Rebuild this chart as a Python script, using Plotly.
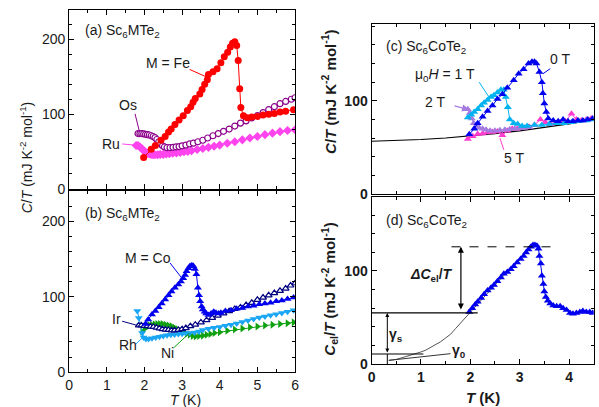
import plotly.graph_objects as go

# ---------------- data ----------------
# panel (a)
T_fe = [1.98, 2.18, 2.29, 2.44, 2.55, 2.64, 2.71, 2.81, 2.92, 3.03, 3.14, 3.23, 3.29, 3.35, 3.47, 3.53, 3.60, 3.67, 3.70, 3.82, 3.93, 4.03, 4.12, 4.21, 4.28, 4.34, 4.40, 4.45, 4.49, 4.53, 4.56, 4.63, 4.73, 4.85, 5.0, 5.15, 5.3, 5.45, 5.6, 5.75, 5.96]
Y_fe = [42, 53, 58, 65, 70, 76, 80, 86, 92, 98, 105, 110, 116, 121, 127, 133, 140, 146, 153, 157, 161, 169, 177, 183, 190, 195, 197, 192, 172, 134, 109, 98, 95, 96, 97, 99, 100, 101, 103, 104, 106]
T_os = [1.83, 1.88, 1.93, 1.98, 2.03, 2.08, 2.13, 2.18, 2.23, 2.28, 2.33, 2.38, 2.43, 2.48, 2.53, 2.6, 2.68, 2.76, 2.84, 2.92, 3.0, 3.1, 3.2, 3.3, 3.42, 3.55, 3.68, 3.82, 3.96, 4.1, 4.25, 4.4, 4.55, 4.7, 4.85, 5.0, 5.15, 5.3, 5.45, 5.6, 5.75, 5.9, 6.0]
Y_os = [74, 74, 74, 73.5, 73, 72.5, 72, 71, 70, 68.5, 66, 63, 60, 57.5, 56, 55, 55, 55.5, 56, 56.5, 57.5, 58.5, 60, 61, 63, 65, 68, 71, 74, 77, 80, 84, 88, 91, 95, 98, 102, 106, 110, 114, 117, 120, 122]
T_ru = [1.78, 1.83, 1.88, 1.93, 1.98, 2.03, 2.08, 2.13, 2.18, 2.23, 2.28, 2.35, 2.42, 2.5, 2.58, 2.66, 2.75, 2.85, 2.95, 3.05, 3.15, 3.25, 3.4, 3.55, 3.7, 3.85, 4.0, 4.2, 4.4, 4.6, 4.8, 5.0, 5.2, 5.4, 5.6, 5.8, 6.0]
Y_ru = [58, 58, 56, 54, 51, 49, 47.5, 46.5, 46, 45.5, 45.5, 45.5, 46, 46, 46.5, 47, 47.5, 48, 48.5, 49.5, 50, 51, 52.5, 54, 55.5, 57, 58.5, 61, 63, 65.5, 68, 70, 72.5, 74.5, 76.5, 78, 79]

# panel (b)
T_co = [2.03, 2.1, 2.2, 2.29, 2.38, 2.46, 2.55, 2.64, 2.72, 2.81, 2.9, 2.97, 3.03, 3.08, 3.12, 3.17, 3.21, 3.26, 3.30, 3.34, 3.38, 3.42, 3.45, 3.48, 3.52, 3.55, 3.6, 3.64, 3.7, 3.77, 3.84, 3.9, 3.97, 4.03, 4.15, 4.3, 4.45, 4.6, 4.75, 4.9, 5.05, 5.2, 5.35, 5.5, 5.65, 5.8, 5.96]
Y_co = [64, 70, 76.5, 81, 86, 91, 96.5, 102, 107, 112, 116.5, 120.5, 124.5, 129, 134, 138, 141, 142, 141, 137, 130, 112, 102, 94, 87, 83, 80, 78, 76, 78, 80, 79, 78, 79, 81, 82, 84, 85, 87, 88, 90, 91, 92, 94, 95, 97, 99]
T_ir = [1.85, 1.92, 2.0, 2.08, 2.16, 2.24, 2.32, 2.4, 2.48, 2.56, 2.64, 2.72, 2.8, 2.9, 3.0, 3.1, 3.22, 3.35, 3.5, 3.65, 3.8, 3.95, 4.1, 4.25, 4.4, 4.55, 4.7, 4.85, 5.0, 5.15, 5.3, 5.45, 5.6, 5.75, 5.88, 6.0]
Y_ir = [62, 62, 61.5, 61, 60.5, 60, 59, 58, 57, 56.5, 56, 55.5, 55.5, 56, 57, 58.5, 61, 63, 66, 69, 72, 75, 78, 81, 84, 86, 89, 92, 96, 99, 102, 105, 108, 111, 115, 118]
T_rh = [1.81, 1.85, 1.89, 1.94, 1.98, 2.04, 2.11, 2.2, 2.3, 2.4, 2.5, 2.6, 2.7, 2.8, 2.9, 3.0, 3.1, 3.2, 3.33, 3.45, 3.55, 3.7, 3.85, 4.0, 4.15, 4.3, 4.45, 4.6, 4.75, 4.9, 5.05, 5.2, 5.35, 5.5, 5.65, 5.8, 5.96]
Y_rh = [81, 72, 63, 52, 46, 44, 44, 45, 46, 47, 48, 49, 49.5, 50, 50.5, 51, 51.5, 52, 52.5, 54, 56, 57.5, 59, 60, 61.5, 63, 64.5, 66.5, 68.5, 70.5, 72.5, 74, 75.5, 77, 78.5, 80, 82]
T_ni = [1.94, 2.0, 2.07, 2.14, 2.2, 2.27, 2.34, 2.41, 2.48, 2.56, 2.64, 2.72, 2.8, 2.88, 2.96, 3.04, 3.12, 3.2, 3.28, 3.36, 3.45, 3.55, 3.65, 3.75, 3.86, 4.0, 4.2, 4.4, 4.6, 4.8, 5.0, 5.2, 5.4, 5.6, 5.8, 5.96]
Y_ni = [54, 58, 60, 62, 63, 63.5, 64, 64, 64, 63, 62, 61, 59, 57, 55, 53, 51, 49.5, 48, 47.5, 48, 48.5, 49.5, 50.5, 52, 53, 55, 56.5, 58, 59.5, 60.5, 62, 63, 64, 65, 66]

# panel (c)
T_0T = [1.98, 2.08, 2.15, 2.25, 2.35, 2.45, 2.55, 2.65, 2.75, 2.88, 2.98, 3.08, 3.18, 3.25, 3.3, 3.34, 3.40, 3.45, 3.47, 3.50, 3.54, 3.58, 3.68, 3.78, 3.88, 3.98, 4.08, 4.18, 4.28, 4.38, 4.48]
Y_0T = [64, 70, 76, 83, 89, 95, 102, 107, 114, 122, 129, 134, 140, 142, 142, 140, 131, 120, 108, 97, 88, 81, 79, 78, 80, 78, 78, 79, 79, 80, 81]
T_1T = [1.95, 2.02, 2.08, 2.15, 2.22, 2.28, 2.35, 2.42, 2.48, 2.55, 2.62, 2.68, 2.72, 2.76, 2.8, 2.88, 2.96, 3.05, 3.15, 3.3, 3.45, 3.6, 3.75, 3.9, 4.05, 4.2, 4.35, 4.48]
Y_1T = [82, 85, 88, 91, 95, 98, 101, 104, 106, 109, 112, 112, 104, 93, 80, 76, 75, 73, 73, 74, 74, 75, 76, 76, 77, 78, 79, 80]
T_2T = [1.95, 1.99, 2.03, 2.07, 2.12, 2.18, 2.25, 2.32, 2.4, 2.5, 2.6, 2.7, 2.8, 2.9, 3.0, 3.1, 3.2]
Y_2T = [91, 87, 81, 76, 73, 71, 70, 69, 68, 68, 68.5, 69, 69.5, 70, 70.5, 71, 72]
T_5T = [1.95, 2.05, 2.15, 2.25, 2.35, 2.45, 2.55, 2.65, 2.75, 2.85, 2.95, 3.05, 3.18, 3.3, 3.42, 3.52, 3.62, 3.72, 3.82, 3.92, 4.05, 4.15, 4.25, 4.35, 4.45]
Y_5T = [59, 62, 64.5, 65, 66, 66.5, 67, 63, 68, 70, 70, 71, 72, 74, 80, 77, 75, 76, 77, 78, 86, 80, 79, 80, 81]
T_fit = [0, 0.5, 1, 1.5, 2, 2.5, 3, 3.5, 4, 4.5]
Y_fit = [56.6, 57.3, 58.5, 60.1, 62.3, 64.8, 67.8, 71.3, 75.2, 79.6]

# panel (d)
T_d = [1.98, 2.04, 2.1, 2.15, 2.22, 2.28, 2.35, 2.42, 2.48, 2.55, 2.62, 2.68, 2.75, 2.82, 2.88, 2.95, 3.02, 3.08, 3.13, 3.18, 3.23, 3.27, 3.31, 3.35, 3.38, 3.40, 3.43, 3.45, 3.48, 3.50, 3.53, 3.57, 3.62, 3.68, 3.75, 3.82, 3.88, 3.95, 4.02, 4.08, 4.15, 4.22, 4.28, 4.35, 4.42, 4.48]
Y_d = [56, 60, 64, 67, 71, 75, 79, 82, 85, 89, 93, 97, 99, 102, 105, 109, 113, 116, 120, 123, 126, 128, 128, 127, 124, 116, 108, 95, 86, 78, 72, 68, 65, 63, 62, 62, 60, 58, 55, 54, 55, 56, 57, 56, 56, 55]
T_curve = [0.35, 0.5, 0.66, 0.8, 1.0, 1.1, 1.2, 1.3, 1.4, 1.5, 1.6, 1.7, 1.8, 1.9, 2.0, 2.25, 2.5, 2.75, 3.0, 3.25]
Y_curve = [4, 5, 7.5, 9.5, 13, 15, 18, 21, 24, 28, 32, 38, 44, 50, 56, 70, 85, 99, 113, 127]
T_g0 = [0.35, 1.6]
Y_g0 = [4, 11.2]

# ---------------- figure ----------------
fig = go.Figure()
FONT = "Liberation Sans, Arial, sans-serif"

def add(x, y, ax, color, symbol, size=7, lw=1, hollow=False):
    if hollow:
        mk = dict(symbol=symbol, size=size, color="white", line=dict(color=color, width=1.2))
    else:
        mk = dict(symbol=symbol, size=size, color=color, line=dict(width=0))
    fig.add_trace(go.Scatter(x=x, y=y, mode="lines+markers", xaxis="x" + ax, yaxis="y" + ax,
                             marker=mk, line=dict(color=color, width=lw), showlegend=False))

add(T_ru, Y_ru, "", "#ff44ee", "diamond", 7)
add(T_os, Y_os, "", "#8b008b", "circle", 6, hollow=True)
add(T_fe, Y_fe, "", "#ff0000", "circle", 7)

add(T_ni, Y_ni, "2", "#10a010", "triangle-right", 7)
add(T_rh, Y_rh, "2", "#1aa6f5", "triangle-down", 7)
add(T_ir, Y_ir, "2", "#000080", "triangle-up", 6, hollow=True)
add(T_co, Y_co, "2", "#0000ee", "triangle-up", 7)

fig.add_trace(go.Scatter(x=T_fit, y=Y_fit, mode="lines", xaxis="x3", yaxis="y3",
                         line=dict(color="black", width=1.2), showlegend=False))
add(T_5T, Y_5T, "3", "#ff3ccf", "triangle-up", 7)
add(T_2T, Y_2T, "3", "#a47be0", "triangle-up", 7)
add(T_1T, Y_1T, "3", "#00b2f0", "triangle-up", 7)
add(T_0T, Y_0T, "3", "#0000ee", "triangle-up", 7)

fig.add_trace(go.Scatter(x=T_curve, y=Y_curve, mode="lines", xaxis="x4", yaxis="y4",
                         line=dict(color="#555555", width=1), showlegend=False))
fig.add_trace(go.Scatter(x=T_g0, y=Y_g0, mode="lines", xaxis="x4", yaxis="y4",
                         line=dict(color="#333333", width=1), showlegend=False))
add(T_d, Y_d, "4", "#0000ee", "triangle-up", 7)

W, H = 599, 407
HE = 397.5  # effective vertical scale observed in the rendering
xL = [66 / W, 295 / W]
xR = [372.5 / W, 597.7 / W]
def fy(p):
    return 1 - p / HE
ya = [fy(188), fy(9.7)]
yb = [fy(370.7), fy(190.7)]
yc = [fy(193.3), fy(24.3)]
yd = [fy(362.7), fy(195.8)]

def tf(bold):
    f = dict(family=FONT, size=14, color="#1a1a1a")
    if bold:
        f["weight"] = "bold"
    return f

def xax(dom, anchor, rng, labels, bold=False):
    return dict(domain=dom, anchor=anchor, range=rng, dtick=1, tick0=0, ticks="inside", ticklen=5,
                tickwidth=1, tickcolor="black", showline=True, linecolor="black", linewidth=1,
                mirror="ticks", showgrid=False, zeroline=False, showticklabels=labels,
                tickfont=tf(bold), fixedrange=True,
                minor=dict(dtick=0.5, tick0=0, ticks="inside", ticklen=3, tickcolor="black", showgrid=False))

def yax(dom, anchor, rng, tv, bold=False):
    return dict(domain=dom, anchor=anchor, range=rng, tickvals=tv, ticks="inside", ticklen=5,
                tickwidth=1, tickcolor="black", showline=True, linecolor="black", linewidth=1,
                mirror="ticks", showgrid=False, zeroline=False, tickfont=tf(bold), fixedrange=True,
                minor=dict(dtick=20, tick0=0, ticks="inside", ticklen=3, tickcolor="black", showgrid=False))

fig.update_layout(
    width=W, height=H, autosize=False, margin=dict(l=0, r=0, t=0, b=0, pad=0),
    paper_bgcolor="white", plot_bgcolor="white", showlegend=False,
    xaxis=xax(xL, "y", [0, 6], False),
    yaxis=yax(ya, "x", [0, 240], [0, 100, 200]),
    xaxis2=xax(xL, "y2", [0, 6], True),
    yaxis2=yax(yb, "x2", [0, 240], [0, 100, 200]),
    xaxis3=xax(xR, "y3", [0, 4.5], False, True),
    yaxis3=yax(yc, "x3", [0, 182], [0, 100], True),
    xaxis4=xax(xR, "y4", [0, 4.5], True, True),
    yaxis4=yax(yd, "x4", [0, 180], [0, 100], True),
)

ann = []
def txt(x, y, t, ax, size=14, xanchor="center", bold=False):
    f = dict(family=FONT, size=size, color="#1a1a1a")
    if bold:
        f["weight"] = "bold"
    ann.append(dict(x=x, y=y, xref="x" + ax, yref="y" + ax, text=t, showarrow=False,
                    font=f, xanchor=xanchor, yanchor="middle"))

txt(0.37, 211, "(a) Sc<sub>6</sub>MTe<sub>2</sub>", "", xanchor="left")
txt(2.62, 168, "M = Fe", "")
txt(1.57, 112, "Os", "")
txt(1.10, 60.5, "Ru", "")
txt(0.37, 210, "(b) Sc<sub>6</sub>MTe<sub>2</sub>", "2", xanchor="left")
txt(2.09, 152, "M = Co", "2")
txt(1.26, 70, "Ir", "2")
txt(1.57, 35.6, "Rh", "2")
txt(2.62, 26, "Ni", "2")
txt(0.25, 158, "(c) Sc<sub>6</sub>CoTe<sub>2</sub>", "3", xanchor="left")
txt(3.81, 144.5, "0 T", "3")
txt(1.48, 128, "μ<sub>0</sub><i>H</i> = 1 T", "3")
txt(1.29, 99, "2 T", "3")
txt(2.88, 38.5, "5 T", "3")
txt(0.25, 154, "(d) Sc<sub>6</sub>CoTe<sub>2</sub>", "4", xanchor="left")
txt(1.22, 95.7, "<i>ΔC</i><sub>el</sub>/<i>T</i>", "4", bold=True)
txt(0.50, 31, "γ<sub>s</sub>", "4", bold=True)
txt(1.77, 13.7, "γ<sub>0</sub>", "4", bold=True)

def ptxt(xp, yp, t, size=14, angle=0, bold=False):
    f = dict(family=FONT, size=size, color="#1a1a1a")
    if bold:
        f["weight"] = "bold"
    ann.append(dict(x=xp / W, y=fy(yp), xref="paper", yref="paper", text=t, showarrow=False,
                    textangle=angle, font=f, xanchor="center", yanchor="middle"))

ptxt(22, 157, "<i>C</i>/<i>T</i> (mJ K<sup>-2</sup> mol<sup>-1</sup>)", 14, -90)
ptxt(184, 398.5, "<i>T</i> (K)", 14)
ptxt(329, 91, "<i>C</i>/<i>T</i> (mJ K<sup>-2</sup> mol<sup>-1</sup>)", 15, -90, True)
ptxt(329, 288, "<i>C</i><sub>el</sub>/<i>T</i> (mJ K<sup>-2</sup> mol<sup>-1</sup>)", 15, -90, True)
ptxt(485, 396.5, "<i>T</i> (K)", 15, 0, True)

ann.append(dict(x=1.98, y=90.4, ax=1.65, ay=95, xref="x3", yref="y3", axref="x3", ayref="y3",
                text="", showarrow=True, arrowhead=2, arrowsize=1.2, arrowwidth=1.2, arrowcolor="#a47be0"))
ann.append(dict(x=1.81, y=126, ax=1.81, ay=57, xref="x4", yref="y4", axref="x4", ayref="y4",
                text="", showarrow=True, arrowhead=2, startarrowhead=2, arrowside="end+start",
                arrowsize=1, arrowwidth=1.2, arrowcolor="black"))
ann.append(dict(x=0.32, y=55, ax=0.32, ay=10.8, xref="x4", yref="y4", axref="x4", ayref="y4",
                text="", showarrow=True, arrowhead=2, startarrowhead=2, arrowside="end+start",
                arrowsize=0.8, arrowwidth=1, arrowcolor="black"))
fig.update_layout(annotations=ann)

shapes = []
def seg(x0, y0, x1, y1, ax, color="black", width=1, dash="solid"):
    shapes.append(dict(type="line", x0=x0, y0=y0, x1=x1, y1=y1,
                       xref="x" + ax, yref="y" + ax,
                       line=dict(color=color, width=width, dash=dash)))

seg(3.20, 160, 3.64, 150, "", "#ff0000")
seg(1.75, 100.5, 1.87, 76, "", "#8b008b")
seg(1.41, 60, 1.85, 58, "", "#ff44ee")
seg(2.68, 145, 2.99, 125, "2", "#0000ee")
seg(1.41, 67.6, 1.81, 62, "2", "#000080")
seg(1.76, 36.5, 1.98, 47.6, "2", "#1aa6f5")
seg(2.77, 32, 3.20, 52, "2", "#10a010")
seg(3.62, 134.5, 3.47, 129, "3", "#0000ee")
seg(2.18, 120, 2.38, 104, "3", "#00b2f0")
seg(2.68, 47.4, 2.60, 60, "3", "#ff3ccf")
seg(1.62, 126, 3.68, 126, "4", "black", 1, "dash")
seg(0, 55, 2.15, 55, "4", "black", 1.2)
seg(0, 10.8, 1.05, 10.8, "4", "black", 1.2)
seg(0.32, 0, 0.32, 10.8, "4", "black", 1)
fig.update_layout(shapes=shapes)

fig.write_html("out.html", config={"responsive": False, "displayModeBar": False})
